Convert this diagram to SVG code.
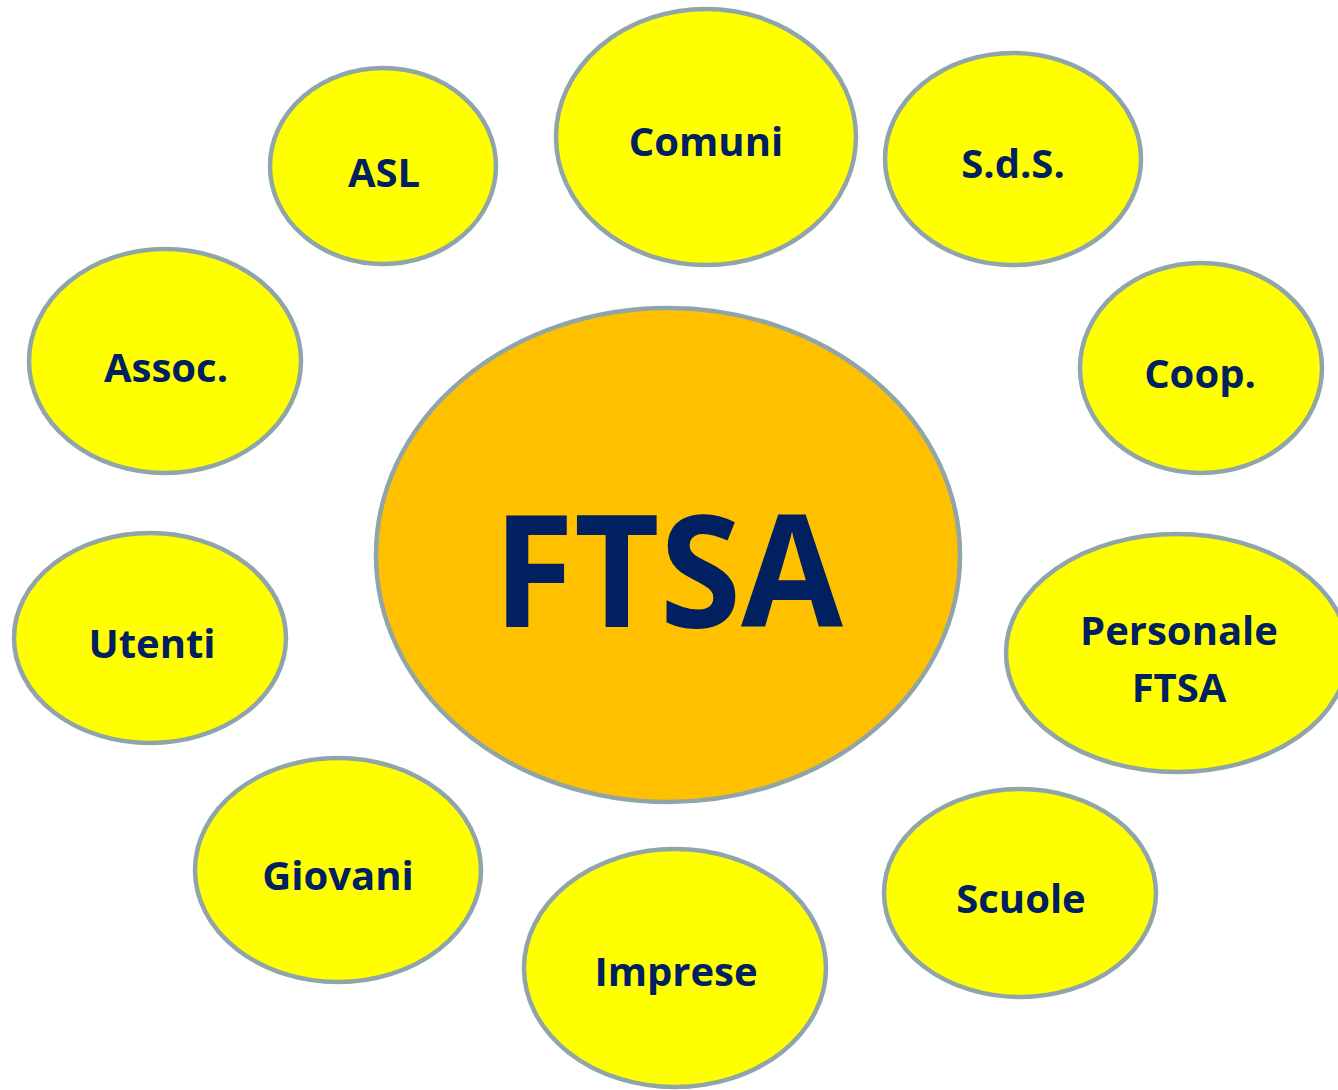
<svg xmlns="http://www.w3.org/2000/svg" width="1338" height="1090" viewBox="0 0 1338 1090">
<style>
.n{fill:#FFFF00;stroke:#8FA5A9;stroke-width:4.5}
.c{fill:#FFC000;stroke:#8FA5A9;stroke-width:4.5}
.t{font-family:"Open Sans","Noto Sans","Liberation Sans",sans-serif;font-weight:bold;font-size:40px;fill:#002060;text-anchor:middle}
.big{font-size:156px}
</style>
<rect width="1338" height="1090" fill="#FFFFFF"/>
<g id="connectors"/>
<g id="n-ftsa"><ellipse class="c" cx="668" cy="555" rx="292" ry="247"/><text class="t big" x="668" y="627" textLength="350" lengthAdjust="spacingAndGlyphs">FTSA</text></g>
<g id="n-comuni"><ellipse class="n" cx="706" cy="137" rx="150" ry="128"/><text class="t" x="706" y="156">Comuni</text></g>
<g id="n-asl"><ellipse class="n" cx="383" cy="166" rx="113" ry="98"/><text class="t" x="384" y="187">ASL</text></g>
<g id="n-sds"><ellipse class="n" cx="1013" cy="159" rx="128" ry="106"/><text class="t" x="1013" y="178">S.d.S.</text></g>
<g id="n-coop"><ellipse class="n" cx="1201" cy="368" rx="121" ry="105"/><text class="t" x="1200" y="388">Coop.</text></g>
<g id="n-assoc"><ellipse class="n" cx="165" cy="361" rx="136" ry="112"/><text class="t" x="166" y="382">Assoc.</text></g>
<g id="n-utenti"><ellipse class="n" cx="150" cy="638" rx="136" ry="105"/><text class="t" x="152" y="658">Utenti</text></g>
<g id="n-personale"><ellipse class="n" cx="1177" cy="653" rx="171" ry="119"/><text class="t" x="1179" y="645">Personale</text><text class="t" x="1179" y="702">FTSA</text></g>
<g id="n-giovani"><ellipse class="n" cx="338" cy="870" rx="143" ry="112"/><text class="t" x="338" y="890">Giovani</text></g>
<g id="n-imprese"><ellipse class="n" cx="675" cy="968" rx="151" ry="119"/><text class="t" x="676" y="986">Imprese</text></g>
<g id="n-scuole"><ellipse class="n" cx="1020" cy="893" rx="136" ry="104"/><text class="t" x="1021" y="913">Scuole</text></g>
</svg>
